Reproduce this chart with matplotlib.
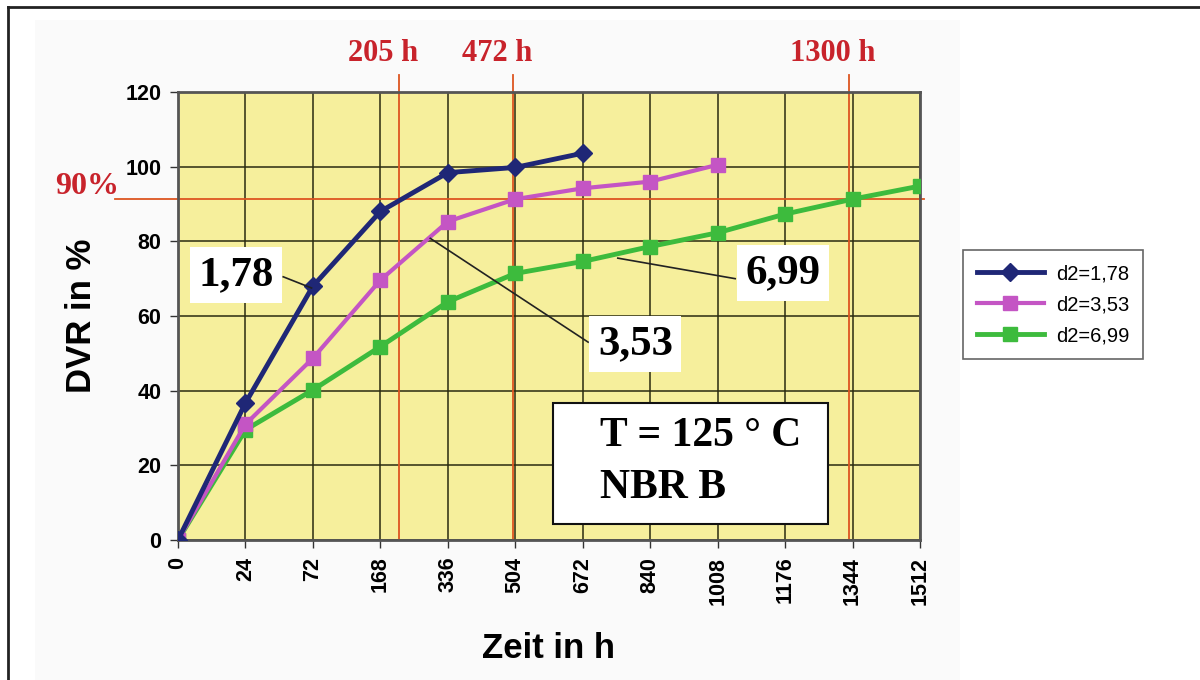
import matplotlib.pyplot as plt
from matplotlib.lines import Line2D
from matplotlib.patches import Rectangle

# data
zeit = ['0', '24', '72', '168', '336', '504', '672', '840', '1008', '1176', '1344', '1512']
dvr_178 = [0, 36.7, 68, 88, 98.4, 99.8, 103.6]
dvr_353 = [0, 31, 48.7, 69.6, 85.3, 91.3, 94.2, 96, 100.5]
dvr_699 = [0, 29.5, 40.2, 51.8, 63.8, 71.4, 74.6, 78.6, 82.3, 87.3, 91.3, 94.8]
labels = ['d2=1,78', 'd2=3,53', 'd2=6,99']

# marked times (in category units of the x axis) and the 90 % level
mark_pos = [3.28, 4.97, 9.95]
mark_text = ['205 h', '472 h', '1300 h']
level_90 = 91.3

W, H = 1200, 680
fig = plt.figure(figsize=(12, 6.8), dpi=100)
fig.patch.set_facecolor('white')


def fx(px):
    return px / W


def fy(py):
    return 1 - py / H


# faint scanned background + outer frame
fig.patches.append(Rectangle((fx(35), 0), fx(925), fy(20), transform=fig.transFigure,
                             facecolor='#fafafa', edgecolor='none', zorder=-10))
fig.add_artist(Line2D([fx(8), 1], [fy(7), fy(7)], transform=fig.transFigure, color='#222222', lw=2))
fig.add_artist(Line2D([fx(8), fx(8)], [fy(7), 0], transform=fig.transFigure, color='#222222', lw=2))

ax = fig.add_axes([fx(178), fy(540), fx(920 - 178), fy(92) - fy(540)])
ax.set_facecolor('#f6ef9c')

x = list(range(len(zeit)))
ax.plot(x[:len(dvr_699)], dvr_699, color='#3dbb3d', lw=3.5, marker='s', ms=10, label=labels[2], zorder=3)
ax.plot(x[:len(dvr_353)], dvr_353, color='#c455c4', lw=3, marker='s', ms=10, label=labels[1], zorder=4)
ax.plot(x[:len(dvr_178)], dvr_178, color='#1f2776', lw=3.5, marker='D', ms=9, label=labels[0], zorder=5)

ax.set_xlim(0, len(zeit) - 1)
ax.set_ylim(0, 120)
ax.set_xticks(x)
ax.set_xticklabels(zeit, rotation=90, fontsize=15.5, fontweight='bold', family='Liberation Sans')
ax.set_yticks(range(0, 121, 20))
ax.set_yticklabels([str(v) for v in range(0, 121, 20)], fontsize=15.5, fontweight='bold',
                   family='Liberation Sans')
ax.tick_params(length=6, width=1, color='#333333', pad=6)
ax.grid(True, color='#2a2a10', lw=1.1)
ax.set_axisbelow(True)
for s in ax.spines.values():
    s.set_color('#555555')
    s.set_linewidth(2)

ax.set_ylabel('DVR in %', fontsize=25, fontweight='bold', family='Liberation Sans', labelpad=20)
ax.set_xlabel('Zeit in h', fontsize=25, fontweight='bold', family='Liberation Sans', labelpad=20)

# red reference lines
red_line = '#dd5520'
red_text = '#c8232b'
ax.axhline(level_90, xmin=-0.085, xmax=1.005, color=red_line, lw=1.3, clip_on=False, zorder=2)
ax.text(-0.88, level_90 - 0.5, '90%', color=red_text, fontsize=23, fontweight='bold',
        family='Liberation Serif', ha='right', va='bottom')
for p, t in zip(mark_pos, mark_text):
    ax.plot([p, p], [0, 124.5], color=red_line, lw=1.3, clip_on=False, zorder=2)
    ax.text(p - 0.24, 126.5, t, color=red_text, fontsize=22, fontweight='bold',
            family='Liberation Serif', ha='center', va='bottom')

# curve labels with leader lines
big = dict(fontsize=31, fontweight='bold', family='Liberation Serif', ha='center', va='center', zorder=7)
white_box = dict(boxstyle='square,pad=0.2', facecolor='white', edgecolor='none')
ax.text(0.86, 71, '1,78', bbox=white_box, **big)
ax.plot([1.56, 1.98], [70.5, 67.5], color='#222222', lw=1.2, zorder=6)
ax.text(6.78, 52.5, '3,53', bbox=white_box, **big)
ax.plot([3.74, 6.08], [80.8, 53], color='#222222', lw=1.2, zorder=6)
ax.text(8.97, 71.5, '6,99', bbox=white_box, **big)
ax.plot([6.52, 8.26], [75.5, 70], color='#222222', lw=1.2, zorder=6)

# condition box
ax.add_patch(Rectangle((5.56, 4.3), 4.07, 32.3, facecolor='white', edgecolor='#111111', lw=1.5, zorder=6))
cond = dict(fontsize=30, fontweight='bold', family='Liberation Serif', ha='left', va='center', zorder=7)
ax.text(6.26, 27.8, 'T = 125 ° C', **cond)
ax.text(6.26, 14, 'NBR B', **cond)

handles = [ax.lines[2], ax.lines[1], ax.lines[0]]
leg = fig.legend(handles, labels, loc='upper left', bbox_to_anchor=(fx(963), fy(250)),
                 bbox_transform=fig.transFigure, borderaxespad=0, fancybox=False,
                 prop={'family': 'Liberation Sans', 'size': 14.5}, handlelength=3.3,
                 labelspacing=0.6, borderpad=0.7, handletextpad=0.6, framealpha=1)
leg.get_frame().set_edgecolor('#666666')
leg.get_frame().set_linewidth(1.2)

fig.savefig('out.png', dpi=100)
